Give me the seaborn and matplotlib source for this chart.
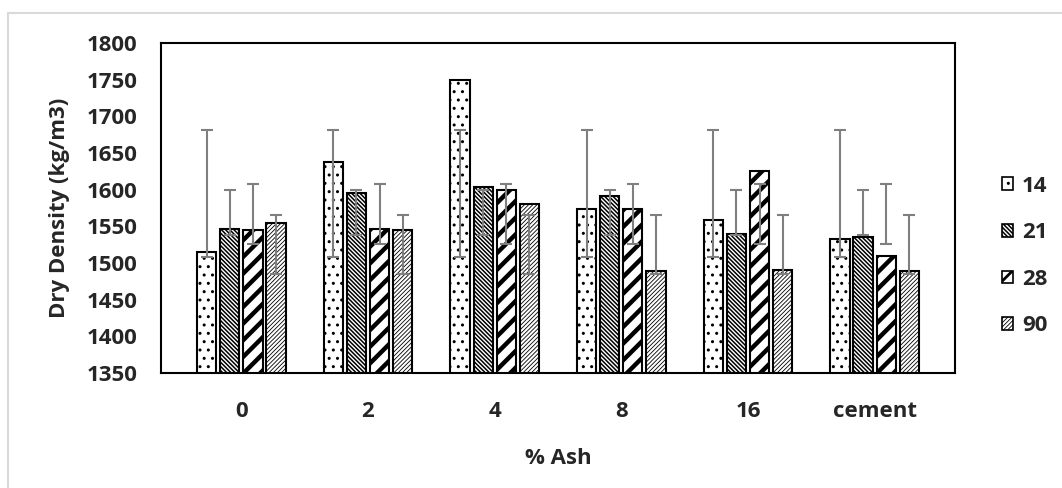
import numpy as np
import pandas as pd
import matplotlib.pyplot as plt
import seaborn as sns
from matplotlib.patches import Patch
from matplotlib.lines import Line2D

# --- data ---
ash = ['0', '2', '4', '8', '16', 'cement']
days = ['14', '21', '28', '90']
d14 = [1515, 1638, 1749, 1574, 1559, 1533]
d21 = [1547, 1595, 1604, 1591, 1540, 1536]
d28 = [1545, 1547, 1599, 1574, 1625, 1510]
d90 = [1555, 1545, 1581, 1489, 1491, 1489]
series = [d14, d21, d28, d90]

y_ticks = list(range(1350, 1801, 50))

# hatch style per curing age
hatches = ['..', '\\' * 8, '//', '/' * 8]
hatch_lw = [1.0, 1.1, 3.2, 0.6]

df = pd.DataFrame({
    'ash': ash * 4,
    'days': [d for d in days for _ in ash],
    'density': d14 + d21 + d28 + d90,
})

sns.set_style('white')
plt.rcParams['font.family'] = ['Open Sans', 'DejaVu Sans']
plt.rcParams['font.weight'] = 'bold'
plt.rcParams['hatch.color'] = 'black'

fig = plt.figure(figsize=(10.62, 4.88), dpi=100)
ax = fig.add_axes([161 / 1062, 1 - 373 / 488, 794 / 1062, 330 / 488])

sns.barplot(data=df, x='ash', y='density', hue='days', order=ash, hue_order=days,
            palette=['white'] * 4, edgecolor='black', linewidth=1.5,
            width=0.73, gap=0.17, errorbar=None, legend=False, saturation=1, ax=ax)

# hatches + Excel-style "standard deviation" error bars (drawn around the series mean)
for cont, h, hl, vals in zip(ax.containers, hatches, hatch_lw, series):
    for bar in cont:
        bar.set_hatch(h)
        if hasattr(bar, 'set_hatch_linewidth'):
            bar.set_hatch_linewidth(hl)
    xs = [b.get_x() + b.get_width() / 2 for b in cont]
    m, sd = np.mean(vals), np.std(vals, ddof=1)
    ax.errorbar(xs, [m] * len(xs), yerr=sd, fmt='none', ecolor='#7f7f7f',
                elinewidth=1.5, capsize=4.3, capthick=1.5, zorder=4)

ax.set_ylim(1350, 1800)
ax.set_yticks(y_ticks)
ax.tick_params(axis='both', length=0, labelsize=16)
ax.tick_params(axis='y', pad=17)
ax.tick_params(axis='x', pad=20)
ax.set_xlabel('')
ax.set_ylabel('')
for s in ax.spines.values():
    s.set_visible(True)
    s.set_color('black')
    s.set_linewidth(1.5)

fig.text(60 / 1062, 1 - 208 / 488, 'Dry Density (kg/m3)', rotation=90,
         ha='center', va='center', fontsize=16, fontweight='bold')
fig.text(558 / 1062, 1 - 458 / 488, '% Ash', ha='center', va='center',
         fontsize=16, fontweight='bold')

handles = []
for h in hatches:
    p = Patch(facecolor='white', edgecolor='black', hatch=h, linewidth=1.2)
    handles.append(p)
leg = fig.legend(handles, days, loc='center left',
                 bbox_to_anchor=(993 / 1062, 1 - 256 / 488), frameon=False,
                 fontsize=16, handlelength=0.5, handleheight=0.5,
                 handletextpad=0.4, labelspacing=1.15, borderaxespad=0)
for p, hl in zip(leg.get_patches(), hatch_lw):
    if hasattr(p, 'set_hatch_linewidth'):
        p.set_hatch_linewidth(min(hl, 2.0))

# light chart-area border (left and top edges visible)
fig.add_artist(Line2D([8 / 1062, 8 / 1062], [0, 1 - 13 / 488], color='#d9d9d9', lw=1.5))
fig.add_artist(Line2D([8 / 1062, 1], [1 - 13 / 488, 1 - 13 / 488], color='#d9d9d9', lw=1.5))

fig.savefig('out.png', dpi=100)
